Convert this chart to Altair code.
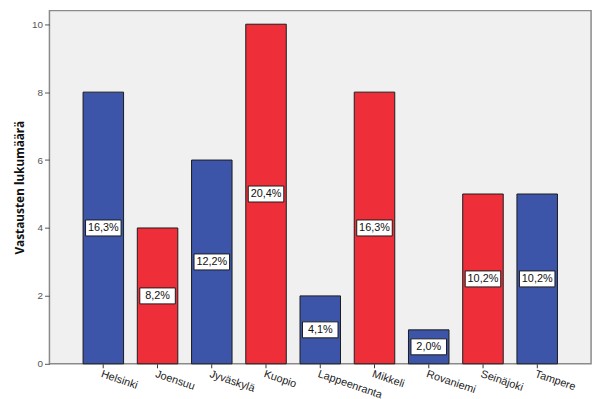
import altair as alt
import pandas as pd

cities = ["Helsinki", "Joensuu", "Jyväskylä", "Kuopio", "Lappeenranta",
          "Mikkeli", "Rovaniemi", "Seinäjoki", "Tampere"]
counts = [8, 4, 6, 10, 2, 8, 1, 5, 5]
labels = ["16,3%", "8,2%", "12,2%", "20,4%", "4,1%", "16,3%", "2,0%", "10,2%", "10,2%"]
groups = ["a", "b", "a", "b", "a", "b", "a", "b", "a"]

df = pd.DataFrame({"city": cities, "count": counts, "label": labels, "group": groups})
df["mid"] = df["count"] / 2

xscale = alt.Scale(domain=cities, paddingInner=0.253, paddingOuter=0.62)
yscale = alt.Scale(domain=[0, 10.4], nice=False)

x = alt.X("city:N", scale=xscale, sort=cities, title=None,
          axis=alt.Axis(labelAngle=19, labelAlign="left", labelBaseline="top",
                        labelFont="Liberation Sans", labelFontSize=11, labelColor="#222",
                        tickColor="#333", tickSize=4, domain=False, labelPadding=0,
                        labelOverlap=False))

bars = alt.Chart(df).mark_bar(stroke="#1a1a1a", strokeWidth=1).encode(
    x=x,
    y=alt.Y("count:Q", scale=yscale, title="Vastausten lukumäärä",
            axis=alt.Axis(values=[0, 2, 4, 6, 8, 10], grid=False, domain=False,
                          tickColor="#555", tickSize=5, labelColor="#555",
                          labelFont="Liberation Sans", labelFontSize=10,
                          titleFont="Noto Sans", titleFontSize=12, titleFontWeight="bold",
                          titleColor="#111", titlePadding=5)),
    color=alt.Color("group:N", scale=alt.Scale(domain=["a", "b"], range=["#3d55a8", "#ee2f3a"]),
                    legend=None),
)

boxes = alt.Chart(df).mark_point(
    shape="M-1,-0.45L1,-0.45L1,0.45L-1,0.45Z", size=1296, filled=True,
    fill="white", stroke="#1a1a1a", strokeWidth=1, opacity=1
).encode(x=x, y=alt.Y("mid:Q", scale=yscale))

texts = alt.Chart(df).mark_text(font="Liberation Sans", fontSize=11, color="#111").encode(
    x=x, y=alt.Y("mid:Q", scale=yscale), text="label:N")

chart = alt.layer(bars, boxes, texts).properties(
    width=549, height=358,
    autosize=alt.AutoSizeParams(type="none"),
    padding={"left": 42, "top": 0, "right": 6, "bottom": 33},
).configure_view(fill="#f0f0f0", stroke="#8a8a8a", strokeWidth=1.5)

chart.save("out.html", embed_options={"renderer": "svg", "actions": False})
